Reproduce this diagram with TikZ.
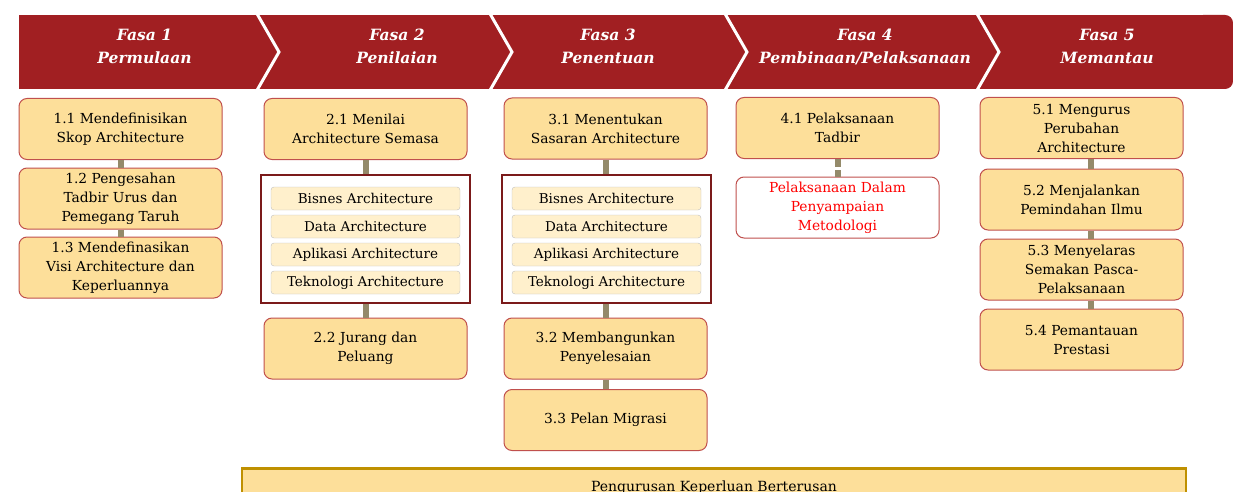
\documentclass[tikz,border=0pt]{standalone}
\usepackage{fontspec}
\setmainfont{DejaVu Serif}
\usetikzlibrary{positioning}
\definecolor{merah}{HTML}{A11F22}
\definecolor{kuning}{HTML}{FDDF9A}
\definecolor{sempadan}{HTML}{C0504D}
\definecolor{penyambung}{HTML}{948A6A}
\definecolor{bingkai}{HTML}{7B1A1A}
\definecolor{emas}{HTML}{BF9000}
\definecolor{krim}{HTML}{FFF0CC}
\tikzset{
	langkah/.style={draw=sempadan,fill=kuning,line width=1pt,rounded corners=8pt,minimum width=203pt,minimum height=61pt,align=center,inner sep=2pt,font=\fontsize{13.8}{19}\selectfont},
	lapisan/.style={draw=black!25,fill=krim,rounded corners=3pt,minimum width=189pt,minimum height=23pt,inner sep=0pt,font=\fontsize{13.5}{15}\selectfont},
	bingkaibox/.style={draw=bingkai,line width=2pt,minimum width=209pt,minimum height=128pt},
	sambung/.style={penyambung,line width=6pt},
	fasa/.style={text=white,align=center,font=\fontsize{15.5}{23}\selectfont\bfseries\itshape},
}
\begin{document}
\begin{tikzpicture}[x=1pt,y=-1pt]
	\useasboundingbox (0,0) rectangle (1233,492);
	% jalur fasa
	\fill[merah] (19,15) rectangle (1215,89);
	\fill[merah,rounded corners=8pt] (1195,15) rectangle (1233,89);
	\foreach \a/\b in {256/279,489/512,724/747,976/999}
		\draw[white,line width=3pt] (\a,12) -- (\b,52) -- (\a,92);
	\node (fasa1) [fasa] at (144.5,46.5) {Fasa 1\\Permulaan};
	\node (fasa2) [fasa] at (397,46.5) {Fasa 2\\Penilaian};
	\node (fasa3) [fasa] at (608,46.5) {Fasa 3\\Penentuan};
	\node (fasa4) [fasa] at (865,46.5) {Fasa 4\\Pembinaan/Pelaksanaan};
	\node (fasa5) [fasa] at (1107,46.5) {Fasa 5\\Memantau};
	% fasa 1
	\node (n11) [langkah] at (120.5,129) {1.1 Mendefinisikan\\Skop Architecture};
	\node (n12) [langkah] at (120.5,198.5) {1.2 Pengesahan\\Tadbir Urus dan\\Pemegang Taruh};
	\node (n13) [langkah] at (120.5,267.5) {1.3 Mendefinasikan\\Visi Architecture dan\\Keperluannya};
	\draw[sambung] (n11) -- (n12);
	\draw[sambung] (n12) -- (n13);
	% fasa 2 dan 3
	\node (n21) [langkah] at (365.5,129) {2.1 Menilai\\Architecture Semasa};
	\node (f2) [bingkaibox] at (365.5,239) {};
	\node (n22) [langkah] at (365.5,348.5) {2.2 Jurang dan\\Peluang};
	\node (n31) [langkah] at (605.5,128.5) {3.1 Menentukan\\Sasaran Architecture};
	\node (f3) [bingkaibox] at (606.5,238.5) {};
	\node (n32) [langkah] at (605.5,348.5) {3.2 Membangunkan\\Penyelesaian};
	\node (n33) [langkah] at (605.5,420) {3.3 Pelan Migrasi};
	\foreach \kol/\x in {2/365.5,3/606.5}
		\foreach \nama [count=\i] in {Bisnes,Data,Aplikasi,Teknologi}
			\node (l\kol\i) [lapisan] at (\x,170.5+28*\i) {\nama\ Architecture};
	\draw[sambung] (n21) -- (f2);
	\draw[sambung] (f2) -- (n22);
	\draw[sambung] (n31.south) -- (n31.south|-f3.north);
	\draw[sambung] (n32.north|-f3.south) -- (n32);
	\draw[sambung] (n32) -- (n33);
	% fasa 4
	\node (n41) [langkah] at (837.5,128) {4.1 Pelaksanaan\\Tadbir};
	\node (n42) [langkah,fill=white,text=red] at (837.5,207.5) {Pelaksanaan Dalam\\Penyampaian\\Metodologi};
	\draw[sambung,dash pattern=on 8pt off 3pt] (n41) -- (n42);
	% fasa 5
	\node (n51) [langkah] at (1081.5,128) {5.1 Mengurus\\Perubahan\\Architecture};
	\node (n52) [langkah] at (1081.5,199.5) {5.2 Menjalankan\\Pemindahan Ilmu};
	\node (n53) [langkah] at (1081.5,269.5) {5.3 Menyelaras\\Semakan Pasca-\\Pelaksanaan};
	\node (n54) [langkah] at (1081.5,339.5) {5.4 Pemantauan\\Prestasi};
	\draw[sambung] ([xshift=9pt]n51.south) -- ([xshift=9pt]n52.north);
	\draw[sambung] ([xshift=9pt]n52.south) -- ([xshift=9pt]n53.north);
	\draw[sambung] ([xshift=9pt]n53.south) -- ([xshift=9pt]n54.north);
	% keperluan
	\node (kep) [draw=emas,fill=kuning,line width=2.5pt,anchor=north,minimum width=944pt,minimum height=38pt,font=\fontsize{14}{16}\selectfont] at (714,467) {Pengurusan Keperluan Berterusan};
\end{tikzpicture}
\end{document}
